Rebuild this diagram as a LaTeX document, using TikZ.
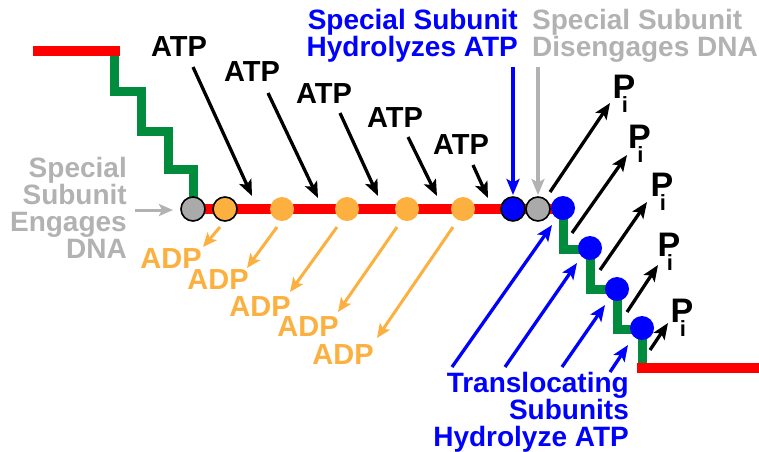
\documentclass[tikz,border=0pt]{standalone}
\usepackage{fontspec}
\setmainfont{Liberation Sans}
\usetikzlibrary{arrows.meta}
\begin{document}
\definecolor{dnared}{RGB}{255,0,0}
\definecolor{dnagreen}{RGB}{0,140,60}
\definecolor{adporange}{RGB}{251,176,64}
\definecolor{subblue}{RGB}{0,0,255}
\definecolor{labelgray}{RGB}{178,178,178}
\definecolor{subgray}{RGB}{170,170,170}

\newcommand{\phosphate}{\bfseries{\fontsize{34}{34}\selectfont P}\kern-13.5pt\raisebox{-14pt}{\fontsize{22}{22}\selectfont i}}

\tikzset{
  lbl/.style={font=\bfseries\fontsize{28}{27}\selectfont, inner sep=0pt},
  big/.style={font=\bfseries\fontsize{29}{29}\selectfont},
  dnastrand/.style={dnared, line width=10pt},
  dnastair/.style={dnagreen, line width=9pt, miter limit=10},
  subunit/.style={circle, minimum size=24pt, inner sep=0pt},
  ringed/.style={draw=black, line width=1.6pt},
  ptr/.style={line width=3.3pt, -{Stealth[length=16pt,width=13pt,inset=3.5pt]}},
  ptrsmall/.style={line width=3pt, -{Stealth[length=14pt,width=12pt,inset=3pt]}},
}

\begin{tikzpicture}[x=1pt,y=-1pt]
\useasboundingbox (0,0) rectangle (759,451);

% ---- DNA: stepped strand entering, straight section, stepped strand leaving
\draw[dnastair] (114,51) -- (114,91) -- (141,91) -- (141,131) -- (168,131)
  -- (168,169) -- (193,169) -- (193,209);
\draw[dnastrand] (33,51) -- (120,51);
\draw[dnastrand] (193,209) -- (563,209);
\draw[dnastair] (563,209) -- (563,249) -- (590,249) -- (590,289) -- (617,289)
  -- (617,329) -- (642,329) -- (642,368);
\draw[dnastrand] (637,368) -- (759,368);

% ---- subunits along the strand
\node[subunit, ringed, fill=subgray]   (g1) at (193,209) {};
\node[subunit, ringed, fill=adporange] (o1) at (225,209) {};
\node[subunit, fill=adporange] (o2) at (282,209) {};
\node[subunit, fill=adporange] (o3) at (347,209) {};
\node[subunit, fill=adporange] (o4) at (407,209) {};
\node[subunit, fill=adporange] (o5) at (463,209) {};
\node[subunit, ringed, fill=subblue] (b0) at (513,209) {};
\node[subunit, ringed, fill=subgray] (g2) at (538,209) {};
\node[subunit, fill=subblue] (b1) at (563,208) {};
\node[subunit, fill=subblue] (b2) at (590,248) {};
\node[subunit, fill=subblue] (b3) at (617,289) {};
\node[subunit, fill=subblue] (b4) at (642,328) {};

% ---- labels
\node[lbl, labelgray, align=right, anchor=north east] (engage) at (127,157)
  {Special\\Subunit\\Engages\\DNA};
\node[lbl, subblue, align=right, anchor=north east] (hydro) at (518,9)
  {Special Subunit\\Hydrolyzes ATP};
\node[lbl, labelgray, align=left, anchor=north west] (diseng) at (532,9)
  {Special Subunit\\Disengages DNA};
\node[lbl, subblue, align=right, anchor=north east] (transl) at (629,372)
  {Translocating\\Subunits\\Hydrolyze ATP};

\node[lbl, big] (atp1) at (179,47) {ATP};
\node[lbl, big] (atp2) at (252,72) {ATP};
\node[lbl, big] (atp3) at (324,94) {ATP};
\node[lbl, big] (atp4) at (395,118) {ATP};
\node[lbl, big] (atp5) at (461,145) {ATP};

\node[lbl, big, adporange] (adp1) at (171,259) {ADP};
\node[lbl, big, adporange] (adp2) at (218,280) {ADP};
\node[lbl, big, adporange] (adp3) at (260,307) {ADP};
\node[lbl, big, adporange] (adp4) at (308,327) {ADP};
\node[lbl, big, adporange] (adp5) at (343,355) {ADP};

\node[inner sep=0pt, anchor=base west] (pi1) at (612.5,98) {\phosphate};
\node[inner sep=0pt, anchor=base west] (pi2) at (628,148) {\phosphate};
\node[inner sep=0pt, anchor=base west] (pi3) at (650.5,196) {\phosphate};
\node[inner sep=0pt, anchor=base west] (pi4) at (657.5,256) {\phosphate};
\node[inner sep=0pt, anchor=base west] (pi5) at (670.5,322) {\phosphate};

% ---- arrow end points
\coordinate (atp1s) at (193,67);  \coordinate (atp1e) at (252,196);
\coordinate (atp2s) at (268,93);  \coordinate (atp2e) at (318,198);
\coordinate (atp3s) at (340,113); \coordinate (atp3e) at (378,196);
\coordinate (atp4s) at (408,137); \coordinate (atp4e) at (437,196);
\coordinate (atp5s) at (473,165); \coordinate (atp5e) at (488,198);

\coordinate (adp1s) at (220,227); \coordinate (adp1e) at (203,247);
\coordinate (adp2s) at (277,227); \coordinate (adp2e) at (247,268);
\coordinate (adp3s) at (337,227); \coordinate (adp3e) at (290,292);
\coordinate (adp4s) at (397,227); \coordinate (adp4e) at (338,312);
\coordinate (adp5s) at (453,227); \coordinate (adp5e) at (377,338);

\coordinate (pi1s) at (550,192); \coordinate (pi1e) at (610,103);
\coordinate (pi2s) at (572,233); \coordinate (pi2e) at (627,155);
\coordinate (pi3s) at (600,270); \coordinate (pi3e) at (647,202);
\coordinate (pi4s) at (627,312); \coordinate (pi4e) at (658,265);
\coordinate (pi5s) at (650,350); \coordinate (pi5e) at (668,323);

\coordinate (tr1s) at (452,367); \coordinate (tr1e) at (552,225);
\coordinate (tr2s) at (505,367); \coordinate (tr2e) at (577,263);
\coordinate (tr3s) at (562,367); \coordinate (tr3e) at (605,305);
\coordinate (tr4s) at (610,372); \coordinate (tr4e) at (628,345);

\coordinate (hydros) at (513,67);  \coordinate (hydroe) at (513,195);
\coordinate (disengs) at (538,67); \coordinate (discnge) at (538,195);
\coordinate (engages) at (135,210); \coordinate (engagee) at (173,210);

% ---- arrows
\foreach \k in {1,...,5} {
  \draw[ptr, black] (atp\k s) -- (atp\k e);
  \draw[ptrsmall, adporange] (adp\k s) -- (adp\k e);
  \draw[ptr, black] (pi\k s) -- (pi\k e);
}
\foreach \k in {1,...,4} {
  \draw[ptr, subblue] (tr\k s) -- (tr\k e);
}
\draw[ptr, subblue] (hydros) -- (hydroe);
\draw[ptr, labelgray] (disengs) -- (discnge);
\draw[ptrsmall, labelgray] (engages) -- (engagee);
\end{tikzpicture}
\end{document}
